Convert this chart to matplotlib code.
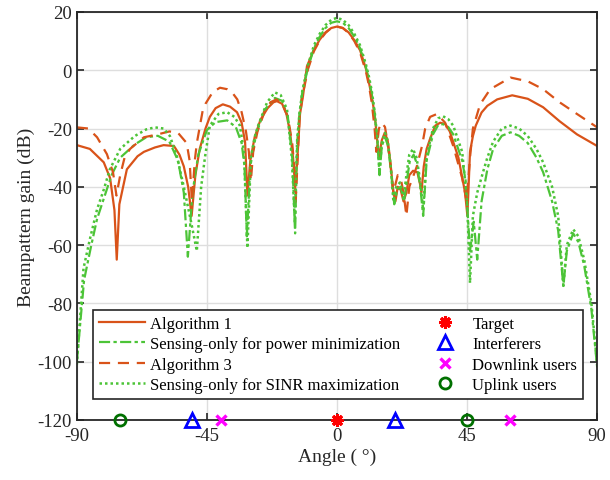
import matplotlib
matplotlib.use('Agg')
import matplotlib.pyplot as plt

# Algorithm 1 (solid)
alg1_angle = [-90, -85.5, -80.7, -78.5, -77, -76.2, -75.3, -72.7, -69, -66.8, -63, -60, -56.4, -54.5, -53, -51.5,
              -50.3, -49, -47.5, -45.5, -44, -42, -39.5, -37, -34.6, -33, -31.8, -31, -30, -28.5, -26.5, -24, -22,
              -20.8, -19, -17.5, -16.3, -15.2, -14.5, -13.8, -12.8, -11.8, -10.4, -8, -6, -4, -2, 0, 2, 4, 6, 8,
              10, 11, 12, 13, 14, 14.5, 15.5, 16.5, 17.5, 18.5, 19.5, 20.2, 21, 22, 23, 24, 25, 26.3, 27.8, 28.7,
              29.2, 30, 31, 32.2, 34, 35.7, 37.5, 39, 42, 44.3, 45.1, 46, 47, 48, 50, 52, 55.4, 60.6, 66, 71.3,
              77, 83, 90]
alg1_gain = [-25.7, -27, -31.6, -37, -48, -65, -46, -34, -29.5, -28, -26.5, -25.7, -26, -29, -33, -40,
             -50, -36, -27, -20, -16, -13, -11.7, -12.5, -14.4, -18, -24.7, -43, -31, -23, -17, -13, -11,
             -10.6, -11.5, -15, -21, -30, -40, -31.6, -15, -9, 1.4, 7, 10.5, 13, 14.5, 15, 14.5, 13, 10.3, 6.8,
             0.5, -4, -9, -15, -25, -30, -24, -21.5, -24, -32, -42, -45, -40, -41, -45, -42, -36, -34.5, -35, -39,
             -42, -33, -27, -23.5, -19, -18, -18.5, -21, -30, -42, -50, -28, -22.6, -19, -14.5, -12.2, -10, -8.6,
             -9.8, -12.7, -17.5, -22, -26]

# Sensing-only for power minimization (dash-dot)
pmin_angle = [-90, -87.5, -85, -83, -80, -78, -75, -70, -66, -62, -58, -55, -53, -51.6, -50, -48, -45, -42,
              -38, -35, -33, -32, -31.2, -30, -28, -25, -21.5, -19, -17, -15.5, -14.5, -13.8, -13, -12, -10, -8,
              -6, -4, -2, 0, 2, 4, 6, 8, 10, 11, 12, 13, 14, 14.7, 15.5, 16.6, 17.5, 18.5, 19.8, 20.8, 22, 23.2,
              24.2, 25.2, 26.5, 27.6, 28.8, 29.8, 31, 33.2, 35, 36.7, 38.5, 40.2, 43.3, 44.5, 46, 47.3, 48.5, 50,
              52, 54, 57, 60, 63, 66, 69, 71.3, 74.4, 76.5, 78.3, 79.5, 81.7, 83.5, 85.5, 88, 90]
pmin_gain = [-100, -72, -60, -51, -42, -36, -30, -25.5, -23, -22.5, -24.5, -31, -42, -64, -42, -29, -20.5,
             -17.8, -17.2, -19.5, -25, -33, -57, -33, -22, -13.5, -9.5, -10.5, -16, -30, -56, -25, -15, -7.5,
             1, 7.5, 11.5, 14.5, 16.3, 16.8, 16.3, 14.5, 11.5, 7.5, 1, -3, -8, -15, -25, -36, -26, -23, -25.5,
             -33, -46, -41, -40, -45, -37.5, -31, -29, -32, -40, -50, -31, -22, -18.8, -18.5, -19.5, -22, -31,
             -38, -62, -52, -65, -45, -34, -27, -22.5, -21.3, -22.5, -25, -30, -35, -45, -55, -74, -62, -56,
             -59, -67, -82, -102]

# Algorithm 3 (dashed)
alg3_angle = [-90, -86, -83, -79.6, -77.5, -76.3, -75, -73.5, -71.6, -66.8, -62, -58, -55, -52, -51, -50.2,
              -49.2, -48.5, -46.5, -45.5, -43, -40.5, -38, -36.3, -34.5, -33, -31.5, -30.5, -29.8, -29, -27.5,
              -25, -23, -21, -19, -17, -15.5, -14.8, -14.3, -13.6, -13, -12, -10, -8, -6, -4, -2, 0, 2, 4, 6, 8,
              10, 11, 12, 13, 13.6, 14.5, 15.5, 16.6, 18, 19.5, 21, 22, 23, 24, 25, 26.5, 27.6, 29.4, 30.5, 32.2,
              34.6, 37.4, 40.2, 43.3, 44.8, 46, 47, 49.5, 53, 60, 66, 71.3, 77, 83, 90]
alg3_gain = [-19.6, -20, -23, -28.8, -35, -43, -36, -30, -27, -23, -22, -21, -21.5, -25, -31, -45,
             -31, -25, -14, -11.5, -7.5, -6, -6.5, -7.6, -10, -14.4, -21, -28, -38, -28, -21,
             -14, -11, -10, -11.5, -16, -25, -33, -45, -30, -17, -9, 0.5, 6.5, 10.2, 12.8, 14.5, 15, 14.5, 12.8,
             10, 6, -0.5, -5, -11, -20, -28, -20, -18, -19.5, -28, -42, -36, -37, -42, -50, -40, -36, -33, -26,
             -20, -16, -15, -18, -26, -37, -45, -30, -20, -11.7, -6.5, -2.5, -3.8, -6.5, -11, -15, -19.6]

# Sensing-only for SINR maximization (dotted)
smax_angle = [-90, -87.7, -85.5, -83, -80.7, -78.6, -75, -70, -66, -63, -60, -57.8, -55.4, -53, -50.5, -48.5,
              -47, -45.7, -44, -41, -38, -35.5, -33.6, -32.2, -31, -29.8, -28.5, -27.3, -24.2, -21.5, -19.5,
              -17.3, -15.6, -14.6, -13.8, -13, -12, -10, -8, -6, -4, -2, 0, 2, 4, 6, 8, 10, 11, 12, 13, 14, 14.7,
              15.5, 16.6, 17.5, 18.5, 19.5, 20.5, 21.8, 23, 24, 25, 26.3, 27.5, 28.8, 29.8, 31, 33.2, 35, 36.7,
              38.5, 40.2, 43.3, 45, 46, 47, 48.5, 50.5, 52, 54, 57, 60, 63, 66, 69, 71.3, 74.4, 76.5, 78.3, 79.5,
              81.7, 83.5, 85.5, 88, 90]
smax_gain = [-101, -68, -58, -47.7, -41, -34, -27, -22.6, -20.3, -19.6, -20, -22.6, -29.5, -40, -52, -62,
             -40, -30, -19, -15, -14.4, -16, -19, -28, -61, -30, -23, -19, -11, -7.6, -8.5, -13.4, -30.5, -52,
             -24, -15, -7, 2, 8.5, 12.5, 15.5, 17.3, 18, 17.3, 15.5, 12.5, 8.5, 2, -2, -7, -14, -24, -35, -25,
             -21.5, -24, -32, -45, -40, -38.5, -44, -36, -29, -27, -30, -38, -48, -29.5, -20, -16.5, -15.8, -16.8,
             -19, -28, -45, -73, -50, -42, -35, -30, -24.5, -20, -19, -20, -22.6, -27, -31.6, -40, -50, -74, -60,
             -54.6, -57, -65, -80, -101]

# user / target angles (deg)
target_angle = [0]
interferer_angle = [-50, 20]
downlink_angle = [-40, 60]
uplink_angle = [-75, 45]

orange = '#D95319'
green = '#4CC437'


def main():
    plt.rcParams['font.family'] = ['Liberation Serif', 'DejaVu Serif']
    plt.rcParams['axes.unicode_minus'] = False

    fig = plt.figure(figsize=(6.10, 4.81), dpi=100)
    ax = fig.add_axes([0.126, 0.125, 0.853, 0.848])

    # 曲线
    l1, = ax.plot(alg1_angle, alg1_gain, color=orange, lw=1.6, ls='-')
    l2, = ax.plot(pmin_angle, pmin_gain, color=green, lw=1.6, ls=(0, (5, 1.5, 1.5, 1.5)))
    l3, = ax.plot(alg3_angle, alg3_gain, color=orange, lw=1.6, ls=(0, (5, 3.5)))
    l4, = ax.plot(smax_angle, smax_gain, color=green, lw=1.8, ls=(0, (1, 1.2)))

    # 目标和用户位置
    base = -120
    m1, = ax.plot(target_angle, [base] * len(target_angle), ls='none', marker=(8, 2, 0), ms=9,
                  mec='red', mfc='red', mew=2.2, clip_on=False, zorder=5)
    m2, = ax.plot(interferer_angle, [base] * len(interferer_angle), ls='none', marker='^', ms=10,
                  mec='blue', mfc='none', mew=2, clip_on=False, zorder=5)
    m3, = ax.plot(downlink_angle, [base] * len(downlink_angle), ls='none', marker='x', ms=7,
                  mec='magenta', mew=2.4, clip_on=False, zorder=5)
    m4, = ax.plot(uplink_angle, [base] * len(uplink_angle), ls='none', marker='o', ms=8,
                  mec='#007000', mfc='none', mew=2, clip_on=False, zorder=5)

    ax.set_xlim(-90, 90)
    ax.set_ylim(-120, 20)
    ax.set_xticks([-90, -45, 0, 45, 90])
    ax.set_yticks(range(-120, 21, 20))
    ax.tick_params(direction='in', top=True, right=True, labelsize=13.5, length=5, width=1.2,
                   colors='#262626')
    ax.tick_params(axis='x', pad=5)
    ax.grid(True, color='#dedede', lw=1)
    ax.set_axisbelow(True)
    for s in ax.spines.values():
        s.set_linewidth(1.3)
        s.set_color('#262626')

    ax.set_xlabel('Angle ( °)', fontsize=14, color='#262626', labelpad=3)
    ax.set_ylabel('Beampattern gain (dB)', fontsize=14, color='#262626', labelpad=2)

    leg = ax.legend([l1, l2, l3, l4, m1, m2, m3, m4],
                    ['Algorithm 1', 'Sensing-only for power minimization', 'Algorithm 3',
                     'Sensing-only for SINR maximization', 'Target', 'Interferers', 'Downlink users',
                     'Uplink users'],
                    ncol=2, loc='lower left', bbox_to_anchor=(0.031, 0.051, 0.942, 0.216), mode='expand',
                    fontsize=12, handlelength=2.8, handletextpad=0.25, labelspacing=0.27,
                    borderpad=0.35, borderaxespad=0, fancybox=False, edgecolor='#262626',
                    framealpha=1, columnspacing=0.6)
    leg.get_frame().set_linewidth(1.2)

    fig.savefig('out.png', dpi=100)


if __name__ == '__main__':
    main()
